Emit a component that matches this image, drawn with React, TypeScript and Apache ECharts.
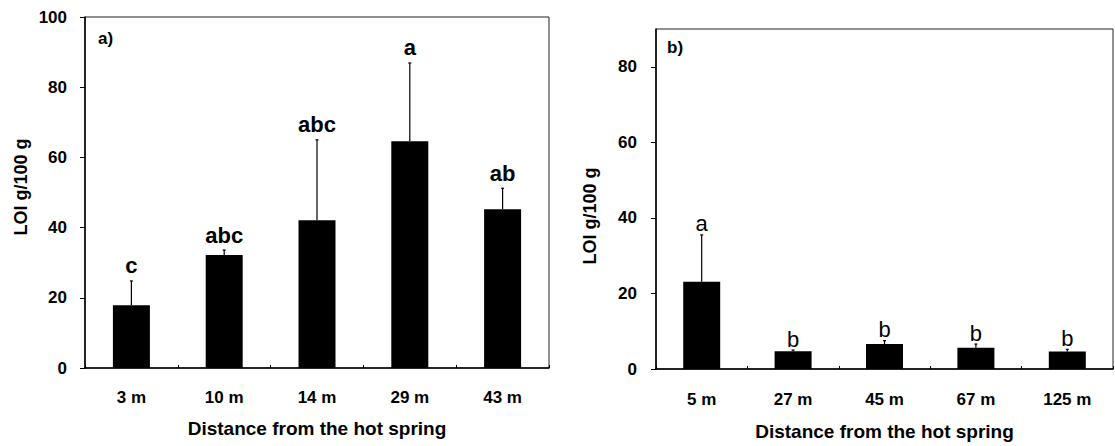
import React, { useEffect, useRef } from "react";
import * as echarts from "echarts";

const categoriesA = ["3 m", "10 m", "14 m", "29 m", "43 m"];
const meansA = [17.9, 32.2, 42.1, 64.6, 45.2];
const upperA = [24.8, 33.6, 65.0, 86.9, 51.2];
const lettersA = ["c", "abc", "abc", "a", "ab"];

const categoriesB = ["5 m", "27 m", "45 m", "67 m", "125 m"];
const meansB = [23.1, 4.7, 6.6, 5.6, 4.6];
const upperB = [35.5, 5.0, 7.5, 6.6, 5.2];
const lettersB = ["a", "b", "b", "b", "b"];

const yTicksA = [0, 20, 40, 60, 80, 100];
const yTicksB = [0, 20, 40, 60, 80];

const FONT = "'Liberation Sans', Arial, Helvetica, sans-serif";

function errorRender(letters: string[], bold: boolean, offset: number) {
  return (params: any, api: any) => {
    const i = api.value(0);
    const base = api.coord([i, api.value(1)]);
    const top = api.coord([i, api.value(2)]);
    return {
      type: "group",
      children: [
        {
          type: "line",
          shape: { x1: base[0], y1: base[1], x2: top[0], y2: top[1] },
          style: { stroke: "#000", lineWidth: 1.2 },
        },
        {
          type: "line",
          shape: { x1: top[0] - 1.5, y1: top[1], x2: top[0] + 1.5, y2: top[1] },
          style: { stroke: "#000", lineWidth: 1.2 },
        },
        {
          type: "text",
          x: top[0],
          y: top[1] - offset,
          style: {
            text: letters[params.dataIndex],
            fill: "#000",
            font: `${bold ? "bold " : ""}22px ${FONT}`,
            textAlign: "center",
            textVerticalAlign: "bottom",
          },
        },
      ],
    };
  };
}

function xAxisCfg(cats: string[], grid: number, gap: number, margin: number) {
  return {
    type: "category",
    gridIndex: grid,
    data: cats,
    boundaryGap: true,
    axisLine: { show: true, lineStyle: { color: "#000", width: 1.5 } },
    axisTick: { show: true, inside: true, length: 3, lineStyle: { color: "#000", width: 1 } },
    axisLabel: { color: "#000", fontFamily: FONT, fontWeight: "bold", fontSize: 17, margin },
    name: "Distance from the hot spring",
    nameLocation: "middle",
    nameGap: gap,
    nameTextStyle: { color: "#000", fontFamily: FONT, fontWeight: "bold", fontSize: 19 },
    splitLine: { show: false },
  };
}

function yAxisCfg(grid: number, max: number, ticks: number[], margin: number) {
  return {
    type: "value",
    gridIndex: grid,
    min: 0,
    max,
    interval: 20,
    axisLine: { show: true, lineStyle: { color: "#000", width: 1.5 } },
    axisTick: { show: true, inside: false, length: 5, customValues: ticks, lineStyle: { color: "#000", width: 1 } },
    axisLabel: {
      color: "#000",
      fontFamily: FONT,
      fontWeight: "bold",
      fontSize: 17,
      margin,
      customValues: ticks,
    },
    splitLine: { show: false },
  };
}

export default function App() {
  const ref = useRef<HTMLDivElement>(null);
  useEffect(() => {
    if (!ref.current) return;
    const chart = echarts.init(ref.current, null, { renderer: "svg" });
    chart.setOption({
      animation: false,
      backgroundColor: "#fff",
      grid: [
        { left: 85, top: 17, width: 464, height: 351, show: true, borderColor: "#222", borderWidth: 1, backgroundColor: "transparent" },
        { left: 656, top: 29, width: 457, height: 342, show: true, borderColor: "#222", borderWidth: 1, backgroundColor: "transparent" },
      ],
      xAxis: [xAxisCfg(categoriesA, 0, 51, 21), xAxisCfg(categoriesB, 1, 53, 22)],
      yAxis: [yAxisCfg(0, 100, yTicksA, 18), yAxisCfg(1, 90, yTicksB, 19)],
      graphic: [
        {
          type: "text",
          x: 21,
          y: 187,
          rotation: Math.PI / 2,
          style: { text: "LOI g/100 g", fill: "#000", font: `bold 18px ${FONT}`, textAlign: "center", textVerticalAlign: "middle" },
        },
        {
          type: "text",
          x: 590,
          y: 216,
          rotation: Math.PI / 2,
          style: { text: "LOI g/100 g", fill: "#000", font: `bold 18px ${FONT}`, textAlign: "center", textVerticalAlign: "middle" },
        },
        {
          type: "text",
          x: 98,
          y: 38,
          style: { text: "a)", fill: "#000", font: `bold 17px ${FONT}`, textAlign: "left", textVerticalAlign: "middle" },
        },
        {
          type: "text",
          x: 667,
          y: 47,
          style: { text: "b)", fill: "#000", font: `bold 17px ${FONT}`, textAlign: "left", textVerticalAlign: "middle" },
        },
      ],
      series: [
        {
          type: "bar",
          xAxisIndex: 0,
          yAxisIndex: 0,
          data: meansA,
          barWidth: 37,
          itemStyle: { color: "#000" },
        },
        {
          type: "custom",
          xAxisIndex: 0,
          yAxisIndex: 0,
          renderItem: errorRender(lettersA, true, 4),
          data: meansA.map((m, i) => [i, m, upperA[i]]),
          z: 5,
        },
        {
          type: "bar",
          xAxisIndex: 1,
          yAxisIndex: 1,
          data: meansB,
          barWidth: 37,
          itemStyle: { color: "#000" },
        },
        {
          type: "custom",
          xAxisIndex: 1,
          yAxisIndex: 1,
          renderItem: errorRender(lettersB, false, 0),
          data: meansB.map((m, i) => [i, m, upperB[i]]),
          z: 5,
        },
      ],
    });
    return () => chart.dispose();
  }, []);
  return (
    <div
      ref={ref}
      style={{ position: "fixed", left: 0, top: 0, width: 1115, height: 446, background: "#fff" }}
    />
  );
}
